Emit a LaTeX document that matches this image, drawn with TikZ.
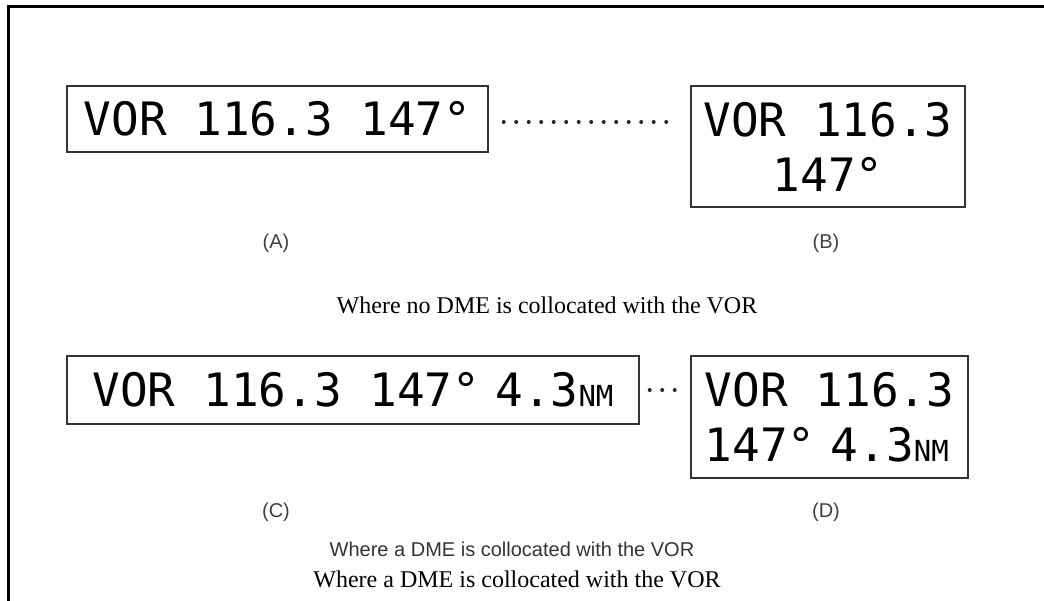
\documentclass[tikz,border=0pt]{standalone}
\usepackage{fontspec}
\setmainfont{Liberation Serif}
\setsansfont{Liberation Sans}
\newfontfamily\lcdfont{DejaVu Sans Mono}
\usetikzlibrary{positioning}

\newcommand{\nmunit}{{\fontsize{29}{29}\selectfont NM}}
\newcommand{\gapsp}{\hspace{0.33em}}

\begin{document}
\begin{tikzpicture}[x=1pt, y=-1pt,
  disp/.style={draw=black!80, line width=1.4pt, inner sep=0pt, font=\lcdfont\fontsize{46}{55}\selectfont, align=center},
  tag/.style={font=\sffamily\fontsize{20}{24}\selectfont, text=black!75},
  captext/.style={font=\rmfamily\fontsize{24}{28}\selectfont},
  dots/.style={line width=4pt, line cap=round, dash pattern=on 0pt off 12.5pt, black!85}
]
  \useasboundingbox (0,0) rectangle (1044,601);
  \draw[line width=3pt] (8,601) -- (8,7) -- (1044,7);

  % without DME
  \node[disp, minimum width=421, minimum height=66] (A) at (277.5,119) {VOR 116.3 147°};
  \node[disp, minimum width=274, minimum height=121] (B) at (828,146.5) {VOR 116.3\\147°};
  \draw[dots, shorten <=15pt, shorten >=19pt] ([yshift=-3pt]A.east) -- ([yshift=-3pt]A.east -| B.west);

  \node[tag] (tagA) at (276,243) {(A)};
  \node[tag] (tagB) at (826,243) {(B)};
  \node[captext] (capA) at (547,305) {Where no DME is collocated with the VOR};

  % with DME
  \node[disp, minimum width=572, minimum height=68] (C) at (353,390) {VOR 116.3 147°\gapsp4.3\nmunit};
  \node[disp, minimum width=277, minimum height=122, align=left] (D) at (829.5,417) {VOR 116.3\\147°\gapsp4.3\nmunit};
  \draw[dots, shorten <=10pt, shorten >=14pt] (C.east) -- (C.east -| D.west);

  \node[tag] (tagC) at (276,512) {(C)};
  \node[tag] (tagD) at (826,512) {(D)};
  \node[tag, text=black!80] (capB) at (512,549) {Where a DME is collocated with the VOR};
  \node[captext] (capC) at (517,579) {Where a DME is collocated with the VOR};
\end{tikzpicture}
\end{document}
